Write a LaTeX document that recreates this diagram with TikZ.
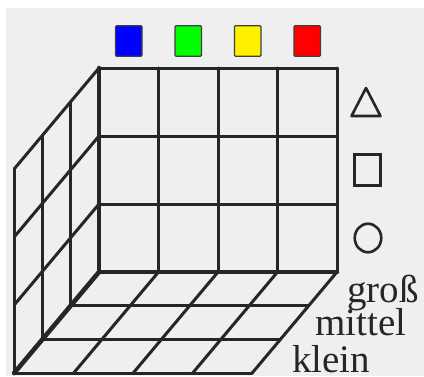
\documentclass[tikz,border=0pt]{standalone}
\usepackage{fontspec}
\setmainfont{Liberation Serif}
\usetikzlibrary{calc,shapes.geometric}
\definecolor{papier}{RGB}{239,239,239}
\definecolor{trait}{RGB}{38,38,38}
\tikzset{
  gitter/.style={draw=trait,line width=3pt,line cap=round,line join=round},
  kante/.style={draw=trait,line width=4.6pt,line cap=round},
  farbe/.style={draw=black!75,line width=1.4pt,minimum width=26.5pt,minimum height=30.5pt,inner sep=0pt,rounded corners=1pt},
  form/.style={draw=trait,line width=2.6pt,inner sep=0pt},
  wort/.style={anchor=base west,inner sep=0pt,font=\fontsize{39}{39}\selectfont,text=trait}
}

\begin{document}
\begin{tikzpicture}[x=1pt,y=1pt]
\fill[white] (0,0) rectangle (424,376);
\fill[papier] (6,0) rectangle (424,368);
\useasboundingbox (0,0) rectangle (424,376);

%% x = Farbe, y = Form, z = Groesse
\begin{scope}[shift={(99pt,104pt)},x={(59.5pt,0pt)},y={(0pt,68pt)},z={(-28.3pt,-33.7pt)}]
\coordinate (O) at (0,0,0);
\coordinate (X) at (4,0,0);
\coordinate (Y) at (0,3,0);
\coordinate (Z) at (0,0,3);

\foreach \i in {1,...,4} \draw[gitter] (\i,0,0) -- (\i,3,0);
\foreach \j in {1,...,3} \draw[gitter] (0,\j,0) -- (4,\j,0);
\foreach \k in {1,...,3} \draw[gitter] (0,0,\k) -- (4,0,\k);
\foreach \i in {1,...,4} \draw[gitter] (\i,0,0) -- (\i,0,3);
\foreach \k in {1,...,3} \draw[gitter] (0,0,\k) -- (0,3,\k);
\foreach \j in {1,...,3} \draw[gitter] (0,\j,0) -- (0,\j,3);

\draw[kante] (X) -- (O) -- (Y);
\draw[kante] (O) -- (Z);

\foreach \c/\n [count=\i from 0] in {blue/blau,green/gruen,yellow/gelb,red/rot}
  \node[farbe,fill=\c] (\n) at ($(\i+.5,3,0)+(0pt,27pt)$) {};

\coordinate (Dr) at ($(4,2.5,0)+(29pt,0pt)$);
\node[form,rectangle,minimum width=25.5pt,minimum height=30.5pt] (Vi) at ($(4,1.5,0)+(30.5pt,0pt)$) {};
\node[form,ellipse,minimum width=26.5pt,minimum height=28.5pt] (Kr) at ($(4,.5,0)+(31pt,0pt)$) {};
\end{scope}

\draw[form,line join=round] ($(Dr)+(0,14)$) -- ++(14.5,-28) -- ++(-29,0) -- cycle;

\node[wort] (gross) at (347,74) {groß};
\node[wort] (mittel) at (315,41) {mittel};
\node[wort] (klein) at (292,4) {klein};
\end{tikzpicture}
\end{document}
